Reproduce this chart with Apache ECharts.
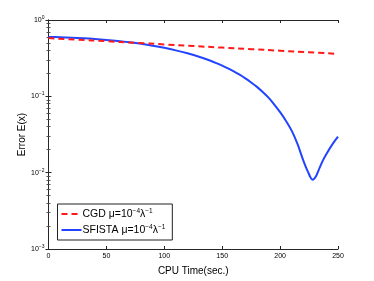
<!DOCTYPE html>
<html><head><meta charset="utf-8">
<script src="https://cdn.jsdelivr.net/npm/echarts@6/dist/echarts.min.js"></script>
<style>html,body{margin:0;padding:0;background:#fff}#c{width:374px;height:281px}</style>
</head><body><div id="c"></div>
<script>
const cgdX = [0, 25, 50, 75, 100, 125, 150, 175, 200, 225, 250];
const cgdY = [0.579, 0.552, 0.527, 0.502, 0.479, 0.456, 0.435, 0.415, 0.396, 0.378, 0.360];
const sfX = [0, 10, 20, 30, 40, 50, 60, 70, 80, 90, 100, 110, 120, 130, 140, 145, 150, 155, 160, 165, 170, 175, 180, 185, 190, 195, 200, 205, 210, 215, 220, 224, 228, 231, 234, 237, 240, 245, 250];
const sfY = [0.600, 0.595, 0.587, 0.577, 0.564, 0.549, 0.531, 0.510, 0.487, 0.461, 0.432, 0.400, 0.366, 0.330, 0.292, 0.272, 0.252, 0.232, 0.212, 0.192, 0.172, 0.152, 0.133, 0.114, 0.096, 0.078, 0.062, 0.048, 0.0355, 0.0238, 0.0145, 0.0103, 0.0081, 0.0090, 0.0115, 0.0145, 0.0176, 0.0233, 0.0296];
const xTicks = [0, 50, 100, 150, 200, 250];
const yExps = [0, -1, -2, -3];
const legendNames = ['CGD', 'SFISTA'];

const font = 'Liberation Sans, Arial, sans-serif';
const chart = echarts.init(document.getElementById('c'));
const pair = (xs, ys) => xs.map((x, i) => [x, ys[i]]);
const lab = n => '{n|' + n + ' \u03bc=10}{s|\u22124}{n|\u03bb}{s|\u22121}';
const axisLine = {lineStyle: {color: '#262626', width: 1}};
chart.setOption({
  animation: false,
  backgroundColor: '#fff',
  grid: {left: 48.5, right: 36, top: 20, bottom: 32},
  legend: {
    orient: 'vertical', left: 57.5, top: 204,
    backgroundColor: '#fff', borderColor: '#222', borderWidth: 1,
    padding: [3.5, 7, 4.5, 3], itemGap: 4, itemWidth: 20, itemHeight: 11,
    data: legendNames,
    itemStyle: {opacity: 0},
    formatter: n => lab(n),
    textStyle: {
      fontFamily: font, color: '#000', padding: [0, 0, 0, -4],
      rich: {
        n: {fontSize: 10.5, fontFamily: font, color: '#000'},
        s: {fontSize: 6.5, fontFamily: font, color: '#000', verticalAlign: 'top', padding: [0, 0, 6, 0]}
      }
    }
  },
  xAxis: [{
    type: 'value', min: 0, max: 250, interval: 50,
    name: 'CPU Time(sec.)', nameLocation: 'middle', nameGap: 17, nameMoveOverlap: false,
    nameTextStyle: {fontFamily: font, fontSize: 10, color: '#000'},
    axisLine: axisLine,
    axisTick: {inside: true, length: 3, lineStyle: {color: '#262626'}},
    axisLabel: {fontFamily: font, fontSize: 7, color: '#000', margin: 4,
      formatter: v => xTicks.includes(v) ? String(v) : ''},
    splitLine: {show: false}
  }, {
    type: 'value', min: 0, max: 250, interval: 50, position: 'top',
    axisLine: axisLine,
    axisTick: {inside: true, length: 3, lineStyle: {color: '#262626'}},
    axisLabel: {show: false}, splitLine: {show: false}
  }],
  yAxis: [{
    type: 'log', logBase: 10, min: 0.001, max: 1,
    name: 'Error E(x)', nameLocation: 'middle', nameGap: 21, nameMoveOverlap: false,
    nameTextStyle: {fontFamily: font, fontSize: 10, color: '#000'},
    axisLine: axisLine,
    axisTick: {inside: true, length: 3, lineStyle: {color: '#262626'}},
    minorTick: {show: true, splitNumber: 9, length: 2, lineStyle: {color: '#555'}},
    axisLabel: {margin: 4,
      formatter: v => {
        const e = Math.round(Math.log10(v));
        if (!yExps.includes(e)) return '';
        return '{b|10}{s|' + (e === 0 ? '0' : '\u2212' + (-e)) + '}';
      },
      rich: {
        b: {fontSize: 7, fontFamily: font, color: '#000'},
        s: {fontSize: 5, fontFamily: font, color: '#000', verticalAlign: 'top', padding: [0, 0, 5, 0]}
      }
    },
    splitLine: {show: false}
  }, {
    type: 'log', logBase: 10, min: 0.001, max: 1, position: 'right',
    axisLine: axisLine,
    axisTick: {inside: true, length: 3, lineStyle: {color: '#262626'}},
    minorTick: {show: true, splitNumber: 9, length: 2, lineStyle: {color: '#555'}},
    axisLabel: {show: false}, splitLine: {show: false}
  }],
  series: [{
    name: legendNames[0], type: 'line', symbol: 'none', smooth: true,
    data: pair(cgdX, cgdY), z: 3,
    lineStyle: {color: '#ff1a1a', width: 2, type: [6, 4]},
    itemStyle: {color: '#ff1a1a'}
  }, {
    name: legendNames[1], type: 'line', symbol: 'none', smooth: 0.3,
    data: pair(sfX, sfY), z: 2,
    lineStyle: {color: '#2244ff', width: 2},
    itemStyle: {color: '#2244ff'}
  }]
});
</script></body></html>
